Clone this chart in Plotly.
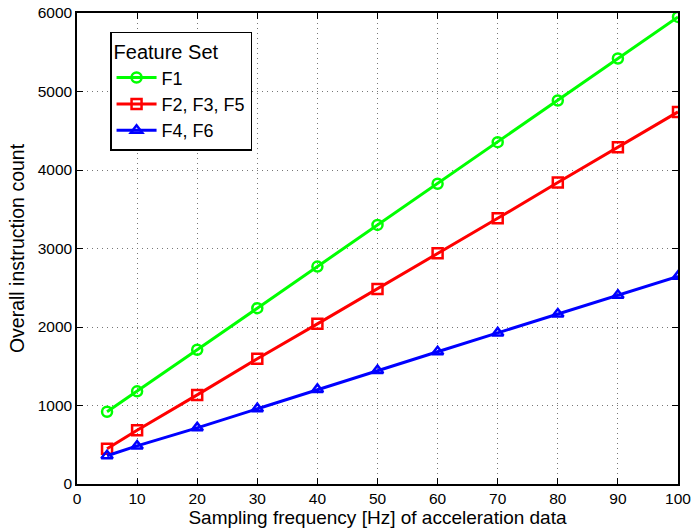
import plotly.graph_objects as go

freq = [5, 10, 20, 30, 40, 50, 60, 70, 80, 90, 100]
f1 = [920, 1180, 1710, 2240, 2770, 3300, 3825, 4355, 4885, 5420, 5950]
f235 = [450, 685, 1135, 1595, 2040, 2485, 2940, 3385, 3840, 4290, 4740]
f46 = [360, 485, 715, 960, 1205, 1445, 1685, 1925, 2165, 2405, 2645]

series = [
    ("F1", f1, "#00ff00", "circle-open"),
    ("F2, F3, F5", f235, "#ff0000", "square-open"),
    ("F4, F6", f46, "#0000ff", "triangle-up-open"),
]

fig = go.Figure()
for name, ys, col, sym in series:
    fig.add_trace(go.Scatter(
        x=freq, y=ys, name=name, mode="lines+markers",
        line=dict(color=col, width=3),
        marker=dict(symbol=sym, size=10, color=col, line=dict(color=col, width=2.5)),
    ))

axis_common = dict(
    showline=True, linecolor="black", linewidth=1.5, mirror="ticks",
    ticks="inside", ticklen=6, tickcolor="black",
    showgrid=True, gridcolor="#777777", griddash="1px,4px", gridwidth=1,
    zeroline=False, tickfont=dict(size=15.5, color="black"), automargin=False,
    ticklabeloverflow="allow",
)

fig.update_layout(
    width=691, height=529,
    margin=dict(l=77, r=13, t=13, b=45),
    paper_bgcolor="white", plot_bgcolor="white",
    font=dict(family="Liberation Sans, Arial, sans-serif", color="black", size=16),
    xaxis=dict(range=[0, 100], dtick=10,
               title=dict(text="Sampling frequency [Hz] of acceleration data", font=dict(size=19), standoff=0),
               **axis_common),
    yaxis=dict(range=[0, 6000], dtick=1000,
               title=dict(text="Overall instruction count", font=dict(size=19.5), standoff=8),
               **axis_common),
    legend=dict(
        title=dict(text="Feature Set", font=dict(size=20)),
        x=0.055, y=0.96, xanchor="left", yanchor="top",
        bgcolor="white", bordercolor="black", borderwidth=1.5,
        font=dict(size=18), tracegroupgap=0, itemwidth=40,
    ),
)

fig.write_html("out.html", config={"displayModeBar": False},
               post_script="document.body.style.margin='0';document.body.style.overflow='hidden';")
